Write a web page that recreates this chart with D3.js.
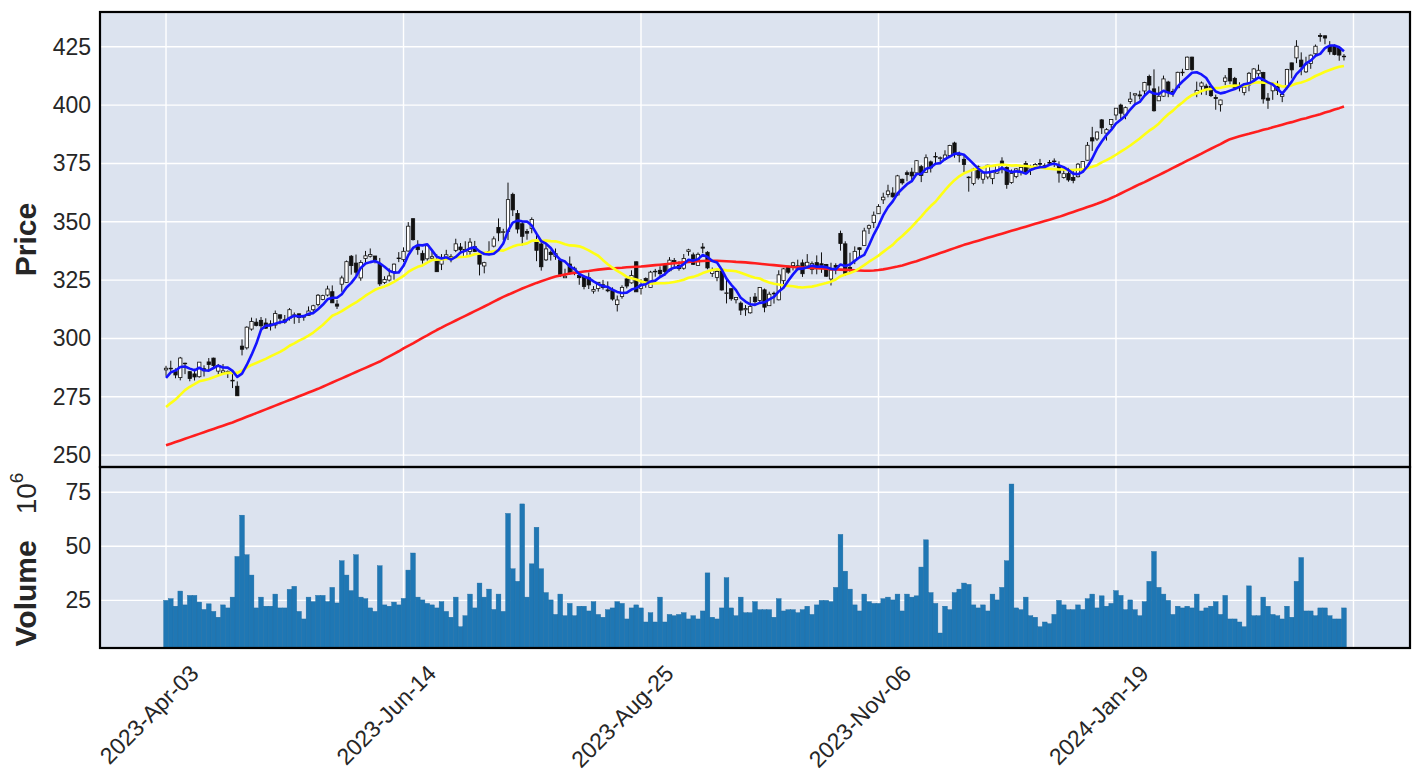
<!DOCTYPE html>
<html>
<head>
<meta charset="utf-8">
<script src="https://cdn.jsdelivr.net/npm/d3@7/dist/d3.min.js"></script>
<style>
  body { margin: 0; background: #fff; }
  svg text { font-family: "Liberation Sans", Arial, sans-serif; fill: #262626; }
</style>
</head>
<body>
<div id="chart"></div>
<script>
// MSFT daily bars, 2023-04-03 .. 2024-03-28 (index = trading day)
const tickIndex = [0, 50, 100, 150, 200];
const tickLabels = ['2023-Apr-03', '2023-Jun-14', '2023-Aug-25', '2023-Nov-06', '2024-Jan-19'];
const priceTicks = [250, 275, 300, 325, 350, 375, 400, 425];
const volumeTicks = [25, 50, 75];
const mavWindows = [5, 20];

// closes before the first plotted bar, only used for the moving averages
const priorCloses = [254.15, 253.70, 252.32, 248.59, 253.92, 260.79, 265.44, 276.20, 279.43, 272.23,
  273.78, 272.29, 277.66, 280.57, 276.38, 275.23, 280.51, 284.05, 288.30];

const opens = [
  286.52, 287.23, 285.85, 283.21, 289.21, 285.75, 284.79, 283.59, 287.00, 289.93,
  291.57, 285.99, 285.25, 285.01, 282.09, 279.51, 296.70, 295.97, 304.01, 306.97,
  307.76, 306.62, 306.24, 305.72, 310.13, 308.00, 308.62, 310.10, 310.55, 309.10,
  309.83, 312.29, 314.53, 316.74, 318.60, 320.03, 314.73, 323.24, 324.02, 335.23,
  332.29, 325.93, 334.25, 335.22, 335.33, 331.65, 323.94, 324.99, 328.58, 334.47,
  333.76, 337.48, 351.32, 339.31, 336.47, 334.12, 334.36, 333.72, 331.86, 334.66,
  334.71, 337.75, 339.19, 335.09, 337.30, 339.32, 335.76, 331.06, 336.60, 339.56,
  347.59, 345.68, 345.83, 361.75, 353.57, 349.15, 345.85, 347.11, 341.44, 340.48,
  333.67, 336.92, 335.19, 333.63, 326.00, 331.88, 328.37, 326.96, 326.47, 326.02,
  320.26, 321.39, 323.00, 320.80, 320.54, 314.49, 317.93, 325.50, 323.82, 332.85,
  321.47, 325.66, 321.88, 328.67, 329.20, 331.31, 329.00, 333.38, 331.29, 330.09,
  337.24, 335.82, 331.31, 339.15, 336.92, 327.80, 326.17, 329.51, 319.26, 321.32,
  316.59, 315.13, 312.30, 310.99, 317.75, 316.28, 320.83, 314.03, 319.09, 316.55,
  324.75, 330.96, 331.21, 329.62, 332.38, 331.05, 329.59, 332.49, 332.00, 331.72,
  325.47, 331.30, 345.02, 340.54, 330.43, 333.41, 338.85, 339.79, 347.24, 349.63,
  353.45, 359.40, 361.68, 362.30, 361.49, 368.22, 371.01, 371.27, 370.96, 373.61,
  371.22, 375.67, 378.00, 377.33, 376.78, 378.35, 383.76, 378.49, 376.76, 369.10,
  366.45, 373.54, 368.23, 369.20, 368.48, 370.85, 376.02, 373.31, 366.85, 369.45,
  371.49, 375.00, 372.56, 373.68, 375.00, 373.69, 375.37, 376.00, 373.86, 369.01,
  370.67, 368.97, 369.30, 372.01, 376.37, 386.00, 385.49, 393.66, 387.98, 391.72,
  395.76, 400.02, 395.75, 401.54, 404.32, 404.37, 406.06, 412.26, 406.96, 401.83,
  403.81, 409.90, 405.88, 407.44, 414.05, 415.25, 420.56, 404.94, 408.07, 408.14,
  407.96, 403.24, 400.17, 410.19, 415.67, 411.46, 407.99, 405.45, 408.64, 411.27,
  413.44, 413.96, 402.97, 406.12, 407.96, 403.76, 407.62, 418.10, 420.24, 419.29,
  414.25, 417.83, 422.00, 429.83, 429.70, 425.24, 425.61, 424.44, 420.96
];
const highs = [
  288.27, 290.45, 287.15, 292.08, 289.60, 285.98, 287.01, 289.90, 288.48, 291.60,
  291.76, 289.05, 289.03, 286.27, 284.95, 281.60, 299.57, 305.20, 308.93, 308.60,
  309.18, 308.61, 307.76, 311.97, 310.20, 310.04, 313.00, 311.12, 310.65, 309.90,
  313.71, 314.43, 319.04, 318.75, 322.59, 322.72, 316.50, 326.90, 333.40, 335.74,
  335.94, 333.53, 337.50, 338.56, 335.37, 334.49, 326.64, 329.99, 332.10, 336.99,
  339.04, 349.84, 351.47, 342.08, 337.73, 340.12, 337.45, 336.11, 336.15, 337.98,
  336.11, 342.73, 340.90, 341.65, 342.99, 341.79, 335.85, 332.85, 341.65, 343.74,
  351.43, 346.99, 366.78, 362.46, 355.03, 350.30, 346.92, 351.89, 344.67, 341.33,
  340.01, 337.70, 338.54, 333.63, 329.88, 335.14, 330.79, 328.75, 327.11, 328.26,
  322.41, 324.06, 325.09, 324.42, 321.87, 318.38, 322.77, 326.08, 329.20, 332.98,
  325.36, 326.15, 328.98, 329.81, 330.91, 331.99, 334.85, 334.46, 333.08, 336.16,
  338.42, 336.79, 336.85, 340.86, 337.40, 330.40, 329.39, 329.59, 325.35, 321.45,
  317.67, 315.88, 314.30, 317.80, 319.47, 321.89, 321.39, 320.04, 320.08, 329.19,
  330.19, 331.10, 332.82, 333.75, 333.83, 336.14, 333.00, 335.59, 336.88, 331.92,
  332.45, 332.20, 346.20, 341.63, 336.72, 339.45, 339.00, 347.42, 348.83, 354.39,
  357.54, 362.46, 365.87, 364.79, 370.10, 368.47, 371.95, 373.13, 376.35, 374.37,
  378.87, 376.22, 379.79, 377.97, 380.64, 383.00, 384.30, 380.09, 378.16, 369.52,
  373.07, 374.18, 371.45, 374.46, 371.60, 374.42, 377.64, 373.76, 372.40, 373.00,
  373.26, 376.03, 374.41, 375.18, 376.94, 375.06, 376.46, 377.16, 375.90, 373.26,
  373.10, 372.06, 375.20, 375.99, 384.17, 390.68, 388.68, 394.03, 390.11, 393.99,
  398.67, 400.62, 399.38, 405.63, 404.39, 406.17, 409.98, 413.05, 415.32, 408.00,
  412.65, 410.41, 407.00, 414.30, 415.56, 420.82, 420.74, 410.07, 410.13, 409.13,
  408.29, 404.49, 402.29, 412.83, 415.86, 412.09, 409.78, 408.16, 414.20, 415.87,
  417.35, 414.25, 405.16, 409.78, 410.42, 405.68, 415.57, 418.18, 427.82, 422.60,
  420.73, 421.67, 425.96, 430.82, 429.86, 427.41, 425.99, 424.45, 421.87
];
const lows = [
  283.95, 285.67, 282.92, 282.03, 284.71, 281.64, 281.96, 283.17, 283.69, 286.16,
  287.01, 284.54, 285.08, 283.06, 278.72, 275.37, 292.73, 295.25, 303.31, 305.15,
  303.91, 304.09, 303.40, 304.27, 306.09, 306.31, 307.67, 306.26, 306.60, 307.59,
  309.83, 310.74, 313.72, 316.37, 318.01, 315.25, 312.61, 320.00, 323.88, 327.33,
  327.33, 324.72, 332.55, 334.66, 332.17, 322.50, 323.35, 324.41, 325.16, 332.70,
  332.81, 337.20, 341.95, 335.86, 332.07, 333.34, 333.36, 328.49, 329.30, 333.81,
  332.62, 337.00, 336.57, 334.73, 335.50, 337.00, 327.00, 327.90, 335.67, 339.02,
  341.68, 342.20, 342.17, 352.44, 345.00, 339.83, 342.31, 345.07, 333.11, 329.05,
  333.17, 333.36, 333.70, 326.36, 325.95, 327.24, 327.10, 323.00, 321.05, 321.18,
  319.21, 320.08, 320.90, 319.80, 316.21, 311.55, 317.04, 321.46, 323.46, 319.96,
  318.80, 321.72, 321.88, 326.45, 326.78, 326.78, 328.66, 330.18, 329.03, 329.46,
  335.43, 331.48, 331.17, 336.57, 329.65, 326.36, 324.51, 320.51, 315.00, 316.15,
  315.00, 310.02, 309.69, 310.62, 314.00, 315.42, 311.21, 314.00, 314.93, 316.30,
  323.18, 327.67, 329.14, 329.21, 326.36, 330.60, 327.50, 327.49, 328.10, 326.35,
  322.70, 327.50, 337.62, 326.94, 328.40, 331.83, 334.69, 339.65, 344.77, 347.33,
  353.35, 357.63, 360.46, 360.36, 361.07, 365.90, 367.35, 367.11, 370.18, 367.00,
  371.00, 371.12, 374.97, 375.14, 376.20, 378.16, 377.44, 375.47, 371.31, 362.90,
  365.62, 368.03, 366.32, 368.23, 366.10, 370.46, 370.77, 364.13, 366.28, 368.68,
  369.84, 370.53, 370.04, 372.71, 373.50, 372.81, 374.16, 373.48, 366.77, 368.51,
  367.17, 366.50, 369.01, 371.19, 376.32, 380.38, 384.65, 387.62, 384.81, 390.12,
  393.50, 393.59, 393.93, 400.45, 400.28, 402.43, 404.33, 406.45, 397.21, 401.80,
  403.56, 403.39, 403.55, 407.40, 412.53, 415.09, 414.75, 403.39, 404.45, 404.29,
  403.44, 398.01, 397.22, 408.57, 408.97, 407.03, 405.87, 404.18, 405.92, 410.88,
  412.32, 400.64, 398.39, 402.24, 404.33, 401.26, 406.79, 411.45, 417.99, 412.79,
  413.78, 415.55, 420.66, 427.16, 426.07, 421.61, 421.35, 419.01, 419.12
];
const closes = [
  287.23, 287.18, 284.34, 291.60, 289.39, 282.83, 283.49, 289.84, 286.14, 288.80,
  288.37, 288.45, 286.11, 285.76, 281.77, 275.42, 295.37, 304.83, 307.26, 305.56,
  305.41, 304.40, 305.41, 310.65, 308.65, 307.00, 312.31, 310.11, 308.97, 309.46,
  311.74, 314.00, 318.52, 318.34, 321.18, 315.26, 313.85, 325.92, 332.89, 331.21,
  328.39, 332.58, 335.40, 335.94, 333.68, 323.38, 325.26, 326.79, 331.85, 334.29,
  337.34, 348.10, 342.33, 338.05, 333.56, 339.71, 335.02, 328.60, 334.57, 335.85,
  335.05, 340.54, 337.99, 338.15, 341.27, 337.22, 331.83, 332.47, 337.20, 342.66,
  345.24, 345.73, 359.49, 355.08, 346.87, 343.77, 345.11, 350.98, 337.77, 330.72,
  338.37, 335.92, 336.34, 327.50, 326.66, 327.78, 330.11, 326.05, 322.23, 322.93,
  321.01, 324.04, 321.86, 320.40, 316.88, 316.48, 321.88, 322.46, 327.00, 319.97,
  322.98, 323.70, 328.41, 328.79, 327.76, 328.66, 333.55, 332.88, 329.91, 334.27,
  337.94, 331.77, 336.06, 338.70, 330.22, 329.06, 328.65, 320.77, 319.53, 317.01,
  317.54, 312.14, 312.79, 313.64, 315.75, 321.80, 313.39, 318.96, 319.36, 327.26,
  329.82, 328.39, 332.42, 331.16, 327.73, 332.64, 332.06, 330.11, 331.32, 326.67,
  329.32, 330.53, 340.67, 327.89, 329.81, 337.31, 338.11, 346.07, 348.32, 352.80,
  356.53, 360.53, 363.20, 360.69, 369.67, 366.68, 370.27, 369.67, 376.17, 369.85,
  377.44, 373.07, 377.85, 377.43, 378.61, 382.70, 378.85, 378.91, 374.51, 369.14,
  372.52, 368.80, 370.95, 374.23, 371.30, 374.38, 374.37, 365.93, 370.73, 372.65,
  373.26, 370.62, 373.54, 374.58, 374.66, 374.07, 375.28, 376.04, 370.87, 370.60,
  367.94, 367.75, 374.69, 375.79, 382.77, 384.63, 388.47, 390.27, 389.47, 393.87,
  398.67, 396.51, 398.90, 402.56, 404.87, 403.93, 409.72, 408.59, 397.58, 403.78,
  411.22, 405.65, 405.49, 414.05, 414.11, 420.55, 415.26, 406.32, 409.49, 406.56,
  404.06, 402.79, 402.18, 411.65, 410.34, 407.54, 407.48, 407.72, 413.64, 415.50,
  414.92, 402.65, 402.09, 409.14, 406.22, 404.52, 415.28, 415.10, 425.22, 416.42,
  417.32, 421.41, 425.23, 429.37, 428.74, 422.86, 421.65, 421.43, 420.72
];
// volume in millions of shares
const volumes = [
  25.0, 25.8, 22.3, 29.3, 22.9, 27.3, 27.3, 24.2, 20.8, 23.4,
  19.9, 17.2, 22.9, 21.5, 26.5, 45.3, 64.4, 46.1, 36.7, 21.5,
  26.5, 22.3, 22.3, 27.9, 21.5, 21.5, 30.1, 31.5, 19.9, 16.4,
  26.5, 24.4, 27.3, 27.3, 24.4, 31.0, 23.8, 43.3, 36.7, 29.5,
  46.1, 26.5, 25.8, 21.5, 19.9, 41.0, 22.9, 22.3, 24.2, 22.9,
  25.9, 39.0, 46.9, 26.5, 25.2, 23.6, 22.9, 21.5, 24.4, 19.9,
  17.2, 26.5, 12.8, 17.9, 27.9, 21.5, 33.0, 26.5, 30.2, 20.8,
  27.9, 19.9, 65.2, 39.6, 33.8, 69.6, 26.5, 41.9, 58.8, 39.6,
  28.6, 25.2, 18.5, 27.9, 17.9, 23.6, 17.9, 22.3, 22.3, 20.1,
  24.4, 18.5, 17.2, 20.7, 21.5, 24.4, 23.6, 16.4, 21.5, 22.9,
  21.5, 15.0, 19.3, 15.0, 26.5, 15.0, 18.5, 17.9, 18.5, 19.3,
  16.4, 17.9, 16.4, 20.1, 37.7, 17.2, 16.4, 21.5, 35.5, 21.5,
  17.9, 26.5, 19.3, 19.3, 24.4, 20.7, 20.7, 20.7, 17.2, 25.8,
  20.1, 20.7, 20.7, 19.3, 20.7, 22.3, 18.5, 22.9, 25.0, 25.0,
  24.4, 31.0, 55.5, 38.5, 30.2, 22.9, 20.1, 27.9, 24.4, 23.6,
  23.6, 25.8, 26.5, 25.2, 27.9, 20.1, 27.9, 26.5, 27.1, 40.4,
  53.0, 28.6, 23.6, 9.9, 22.3, 20.7, 28.6, 30.2, 33.0, 32.4,
  22.9, 21.5, 22.9, 20.1, 27.9, 25.2, 31.0, 43.3, 78.8, 21.5,
  20.7, 26.5, 17.9, 17.2, 12.8, 15.0, 14.2, 18.5, 25.0, 22.9,
  20.7, 20.7, 22.9, 20.8, 25.8, 27.9, 21.5, 27.1, 22.3, 23.6,
  29.5, 27.3, 20.7, 25.2, 20.7, 17.9, 24.4, 33.8, 47.6, 31.0,
  27.9, 25.0, 18.5, 22.3, 21.5, 22.3, 21.5, 27.9, 20.1, 21.5,
  22.3, 24.4, 18.5, 27.3, 16.4, 16.4, 15.0, 12.8, 31.7, 17.9,
  17.9, 26.5, 22.3, 18.5, 17.9, 16.4, 22.3, 17.2, 33.8, 44.8,
  20.1, 20.1, 17.9, 21.5, 21.5, 17.9, 16.4, 16.4, 21.5
];
// slow (red) average
const slowAverage = [
  254.2, 254.9, 255.6, 256.3, 257.0, 257.7, 258.4, 259.1, 259.8, 260.5,
  261.2, 261.9, 262.6, 263.3, 264.0, 264.8, 265.6, 266.4, 267.2, 268.0,
  268.8, 269.6, 270.4, 271.2, 272.0, 272.8, 273.6, 274.4, 275.2, 276.0,
  276.8, 277.6, 278.4, 279.3, 280.2, 281.1, 282.0, 282.9, 283.8, 284.7,
  285.6, 286.5, 287.4, 288.3, 289.2, 290.1, 291.2, 292.3, 293.4, 294.5,
  295.7, 296.8, 297.9, 299.1, 300.2, 301.3, 302.5, 303.6, 304.6, 305.7,
  306.7, 307.7, 308.7, 309.7, 310.7, 311.7, 312.7, 313.7, 314.7, 315.8,
  316.8, 317.8, 318.7, 319.6, 320.5, 321.4, 322.2, 323.0, 323.8, 324.5,
  325.2, 325.9, 326.5, 327.0, 327.4, 327.8, 328.1, 328.4, 328.7, 328.9,
  329.2, 329.5, 329.7, 329.9, 330.0, 330.2, 330.3, 330.5, 330.6, 330.7,
  330.8, 331.0, 331.2, 331.4, 331.6, 331.8, 332.0, 332.2, 332.4, 332.6,
  332.8, 333.0, 333.1, 333.2, 333.3, 333.3, 333.3, 333.2, 333.1, 333.0,
  332.8, 332.7, 332.6, 332.4, 332.2, 332.0, 331.8, 331.6, 331.4, 331.2,
  331.0, 330.8, 330.6, 330.5, 330.4, 330.3, 330.2, 330.1, 330.0, 329.9,
  329.7, 329.6, 329.5, 329.4, 329.3, 329.2, 329.1, 329.0, 329.0, 329.1,
  329.3, 329.6, 330.0, 330.4, 330.8, 331.3, 331.9, 332.5, 333.1, 333.8,
  334.5, 335.2, 335.9, 336.6, 337.3, 338.0, 338.7, 339.4, 340.1, 340.7,
  341.3, 341.9, 342.5, 343.1, 343.7, 344.3, 344.9, 345.5, 346.1, 346.7,
  347.3, 347.9, 348.5, 349.1, 349.7, 350.3, 350.9, 351.5, 352.1, 352.8,
  353.5, 354.2, 354.9, 355.6, 356.3, 357.0, 357.7, 358.5, 359.3, 360.2,
  361.1, 362.1, 363.1, 364.1, 365.1, 366.1, 367.0, 368.0, 369.0, 370.0,
  371.0, 372.0, 373.1, 374.1, 375.1, 376.2, 377.2, 378.2, 379.2, 380.3,
  381.3, 382.3, 383.3, 384.4, 385.4, 386.0, 386.6, 387.2, 387.7, 388.3,
  388.8, 389.4, 389.9, 390.5, 391.0, 391.6, 392.2, 392.7, 393.3, 393.9,
  394.4, 395.0, 395.5, 396.1, 396.8, 397.4, 398.1, 398.7, 399.4
];

const WIDTH = 1413;
const HEIGHT = 783;
const plotLeft = 100;
const plotRight = 1410;
const priceTop = 12;
const priceBottom = 467;
const volumeBottom = 648;
const faceColor = '#DCE3EF';
const mavColors = ['#1414ff', '#ffff14'];
const slowColor = '#ff1e1e';

function simpleAverage(series, prior, n) {
  const all = prior.concat(series);
  const offset = prior.length;
  return series.map((_, i) => {
    const end = offset + i;
    return d3.mean(all.slice(Math.max(0, end - n + 1), end + 1));
  });
}

const svg = d3.select('#chart').append('svg')
  .attr('width', WIDTH)
  .attr('height', HEIGHT);

const x = d3.scaleLinear().domain([-13.9, 261.9]).range([plotLeft, plotRight]);
const yPrice = d3.scaleLinear().domain([244.9, 439.9]).range([priceBottom, priceTop]);
const yVol = d3.scaleLinear()
  .domain([0.3 * d3.min(volumes), 1.1 * d3.max(volumes)])
  .range([volumeBottom, priceBottom]);

// panel backgrounds
[[priceTop, priceBottom], [priceBottom, volumeBottom]].forEach(([t, b]) => {
  svg.append('rect')
    .attr('x', plotLeft).attr('y', t)
    .attr('width', plotRight - plotLeft).attr('height', b - t)
    .attr('fill', faceColor);
});

// grid
const gridX = [0, 50, 100, 150, 200, 250];
const grid = svg.append('g').attr('stroke', '#fff').attr('stroke-width', 1.4);
gridX.forEach(i => {
  grid.append('line').attr('x1', x(i)).attr('x2', x(i))
    .attr('y1', priceTop).attr('y2', volumeBottom);
});
priceTicks.forEach(v => {
  grid.append('line').attr('x1', plotLeft).attr('x2', plotRight)
    .attr('y1', yPrice(v)).attr('y2', yPrice(v));
});
volumeTicks.forEach(v => {
  grid.append('line').attr('x1', plotLeft).attr('x2', plotRight)
    .attr('y1', yVol(v)).attr('y2', yVol(v));
});

// volume bars
const step = x(1) - x(0);
svg.append('g').selectAll('rect').data(volumes).join('rect')
  .attr('x', (d, i) => x(i) - step / 2)
  .attr('width', step)
  .attr('y', d => yVol(d))
  .attr('height', d => volumeBottom - yVol(d))
  .attr('fill', '#1f77b4')
  .attr('stroke', '#1b6aa0')
  .attr('stroke-width', 0.4);

// candles
const bodyW = step * 0.7;
const candles = svg.append('g');
closes.forEach((c, i) => {
  const o = opens[i];
  const up = c >= o;
  candles.append('line')
    .attr('x1', x(i)).attr('x2', x(i))
    .attr('y1', yPrice(highs[i])).attr('y2', yPrice(lows[i]))
    .attr('stroke', '#111').attr('stroke-width', 1);
  const top = yPrice(Math.max(o, c));
  const h = Math.max(0.6, Math.abs(yPrice(o) - yPrice(c)));
  candles.append('rect')
    .attr('x', x(i) - bodyW / 2).attr('y', top)
    .attr('width', bodyW).attr('height', h)
    .attr('fill', up ? '#fff' : '#111')
    .attr('stroke', '#111').attr('stroke-width', 0.8);
});

// moving averages
const line = d3.line().x((d, i) => x(i)).y(d => yPrice(d));
const lines = svg.append('g').attr('fill', 'none').attr('stroke-width', 2.6)
  .attr('stroke-linejoin', 'round');
lines.append('path').attr('d', line(slowAverage)).attr('stroke', slowColor);
[1, 0].forEach(k => {
  lines.append('path')
    .attr('d', line(simpleAverage(closes, priorCloses, mavWindows[k])))
    .attr('stroke', mavColors[k]);
});

// frames
[[priceTop, priceBottom], [priceBottom, volumeBottom]].forEach(([t, b]) => {
  svg.append('rect')
    .attr('x', plotLeft).attr('y', t)
    .attr('width', plotRight - plotLeft).attr('height', b - t)
    .attr('fill', 'none').attr('stroke', '#000').attr('stroke-width', 2.2);
});

// y tick labels
const tickFont = 23;
priceTicks.forEach(v => {
  svg.append('text').attr('x', plotLeft - 9).attr('y', yPrice(v))
    .attr('text-anchor', 'end').attr('dominant-baseline', 'central')
    .attr('font-size', tickFont).text(v);
});
volumeTicks.forEach(v => {
  svg.append('text').attr('x', plotLeft - 9).attr('y', yVol(v))
    .attr('text-anchor', 'end').attr('dominant-baseline', 'central')
    .attr('font-size', tickFont).text(v);
});

// x tick labels
tickIndex.forEach((idx, k) => {
  svg.append('text')
    .attr('transform', `translate(${x(idx) + 34},${675}) rotate(-45)`)
    .attr('text-anchor', 'end')
    .attr('font-size', tickFont)
    .text(tickLabels[k]);
});

// axis labels
svg.append('text')
  .attr('transform', `translate(36,${(priceTop + priceBottom) / 2}) rotate(-90)`)
  .attr('text-anchor', 'middle')
  .attr('font-size', 30).attr('font-weight', 'bold')
  .text('Price');

const vlabel = svg.append('text')
  .attr('transform', `translate(36,${(priceBottom + volumeBottom) / 2 + 2}) rotate(-90)`)
  .attr('text-anchor', 'middle')
  .attr('font-size', 30);
vlabel.append('tspan').attr('font-weight', 'bold').text('Volume');
vlabel.append('tspan').attr('dx', 26).attr('font-size', 28).text('10');
vlabel.append('tspan').attr('font-size', 19).attr('dy', -13).text('6');
</script>
</body>
</html>
